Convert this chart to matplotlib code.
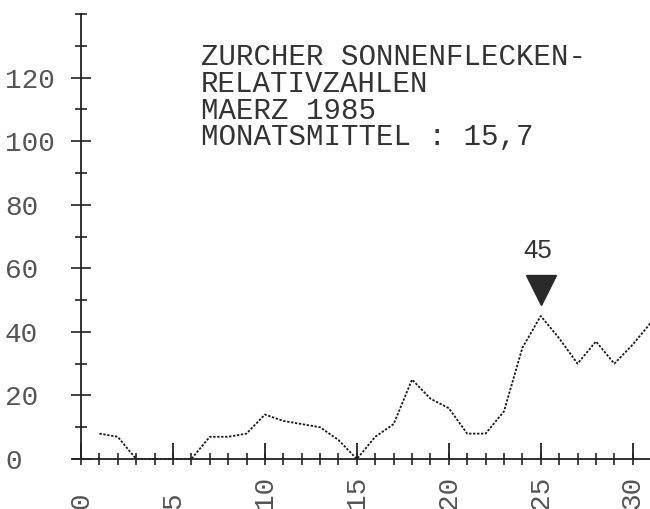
import matplotlib
matplotlib.use("Agg")
import matplotlib.pyplot as plt
from matplotlib.ticker import FixedLocator
from matplotlib.transforms import offset_copy

# ---- data ----
days = list(range(1, 32))
sunspots = [8, 7, 0, 0, 0, 0, 7, 7, 8, 14, 12, 11, 10, 6, 0,
            7, 11, 25, 19, 16, 8, 8, 15, 35, 45, 38, 30, 37, 30, 36, 43]
x_ticks = [0, 5, 10, 15, 20, 25, 30]
x_ticklabels = ["0", "5", "10", "15", "20", "25", "30"]
x_minor = list(range(0, 31))
y_ticks = [0, 20, 40, 60, 80, 100, 120]
y_ticklabels = ["0", "20", "40", "60", "80", "100", "120"]
y_minor = [10, 30, 50, 70, 90, 110, 130, 140]
title_lines = ["ZURCHER SONNENFLECKEN-",
               "RELATIVZAHLEN",
               "MAERZ 1985",
               "MONATSMITTEL : 15,7"]

W, H = 650, 509
fig = plt.figure(figsize=(W / 100, H / 100), dpi=100)
fig.patch.set_facecolor("white")

# axes geometry (pixels)
ax_left_px, ax_right_px = 73, 650
ax_top_px, ax_bot_px = 14, 465.4
ax = fig.add_axes([ax_left_px / W, 1 - ax_bot_px / H,
                   (ax_right_px - ax_left_px) / W, (ax_bot_px - ax_top_px) / H])
ax.set_facecolor("none")
ax.set_xlim(-0.435, 30.94)
ax.set_ylim(-2, 140)

axis_col = "#222222"
label_col = "#555555"
mono = "Liberation Mono"

# spines
for s in ["top", "right"]:
    ax.spines[s].set_visible(False)
ax.spines["left"].set_position(("data", 0))
ax.spines["bottom"].set_position(("data", 0))
ax.spines["left"].set_bounds(0, 140)
for s in ["left", "bottom"]:
    ax.spines[s].set_color(axis_col)
    ax.spines[s].set_linewidth(1.3)

# data line
ax.plot(days, sunspots, color="#1a1a1a", lw=1.3, linestyle=(0, (1.3, 0.9)))

# ticks
ax.xaxis.remove_overlapping_locs = False
ax.yaxis.remove_overlapping_locs = False
ax.xaxis.set_major_locator(FixedLocator(x_ticks))
ax.xaxis.set_minor_locator(FixedLocator(x_minor))
ax.yaxis.set_major_locator(FixedLocator(y_ticks))
ax.yaxis.set_minor_locator(FixedLocator(y_minor))

ax.tick_params(axis="x", which="major", direction="in", length=11.5, width=1.3,
               color=axis_col, pad=36)
ax.tick_params(axis="x", which="minor", direction="inout", length=8, width=1.2,
               color=axis_col)
ax.tick_params(axis="y", which="major", direction="inout", length=14.4, width=1.2,
               color=axis_col, pad=47.5)
ax.tick_params(axis="y", which="minor", direction="inout", length=8, width=1.2,
               color=axis_col)

ax.set_xticklabels(x_ticklabels, rotation=90, va="bottom", ha="center",
                   fontfamily=mono, fontsize=20, color=label_col)
ax.set_yticklabels(y_ticklabels, ha="left", fontfamily=mono, fontsize=20,
                   color=label_col)

# title block (one multi-line text; baseline = last line)
fig.text(201 / W, 1 - 145.5 / H, "\n".join(title_lines), fontfamily=mono,
         fontsize=21, color="#333333", ha="left", va="baseline",
         linespacing=0.945)

# peak marker
imax = max(range(len(sunspots)), key=lambda i: sunspots[i])
px, py = days[imax], sunspots[imax]
tri_tr = offset_copy(ax.transData, fig=fig, x=0, y=26 / 100 * 72, units="points")
ax.plot([px], [py], marker="v", markersize=22, color="#2a2a2a",
        transform=tri_tr, clip_on=False)
ax.annotate(str(py), xy=(px, py), xytext=(-3.5, 64.5), textcoords="offset pixels",
            ha="center", va="center", fontfamily="Liberation Sans", fontsize=18.5,
            color="#333333")

fig.savefig("out.png", dpi=100, facecolor="white")
